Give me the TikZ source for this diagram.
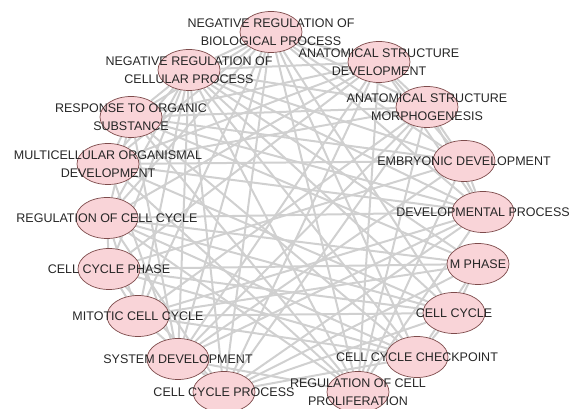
\documentclass[tikz,border=0pt]{standalone}
\usepackage{fontspec}
\setmainfont{Liberation Sans}
\usetikzlibrary{shapes.geometric}
\definecolor{termfill}{RGB}{249,212,216}
\definecolor{termline}{RGB}{125,75,75}
\definecolor{edgegray}{RGB}{208,208,208}
\pgfdeclarelayer{bg}
\pgfsetlayers{bg,main}

\begin{document}
\begin{tikzpicture}[x=1pt, y=-1pt,
    term/.style={ellipse, draw=termline, fill=termfill, line width=0.7pt, minimum width=62pt, minimum height=41pt, inner sep=0pt},
    lbl/.style={align=center, font=\fontsize{12.5}{17.5}\selectfont, text=black!85, inner sep=0pt},
    link/.style={draw=edgegray, line width=2pt}]
    \useasboundingbox (0,0) rectangle (574,409);
    % terms around the circle
    \node[term] (nbp) at (271,32) {};
    \node[term] (asd) at (379,62) {};
    \node[term] (asm) at (427,107) {};
    \node[term] (emb) at (464,161) {};
    \node[term] (dev) at (483,212) {};
    \node[term] (mph) at (478,264) {};
    \node[term] (cyc) at (454,313) {};
    \node[term] (chk) at (417,357) {};
    \node[term] (prol) at (358,392) {};
    \node[term] (ccp) at (224,392) {};
    \node[term] (sysd) at (178,359) {};
    \node[term] (mit) at (138,316) {};
    \node[term] (ccph) at (109,269) {};
    \node[term] (rcc) at (107,218) {};
    \node[term] (mod) at (108,164) {};
    \node[term] (resp) at (131,117) {};
    \node[term] (ncp) at (189,70) {};
    % overlap links
    \begin{pgfonlayer}{bg}
        \foreach \a/\b in {nbp/asd, nbp/asm, nbp/emb, nbp/dev, nbp/prol, nbp/ccp, nbp/sysd, nbp/mit, nbp/rcc, nbp/mod, nbp/resp, nbp/ncp, nbp/chk, nbp/cyc,
            asd/asm, asd/emb, asd/dev, asd/sysd, asd/mod, asd/resp, asd/ncp, asd/prol, asd/ccp, asd/rcc, asd/ccph,
            asm/emb, asm/dev, asm/sysd, asm/mod, asm/resp, asm/ncp, asm/prol, asm/ccp, asm/mit,
            emb/dev, emb/sysd, emb/mod, emb/resp, emb/ncp, emb/prol, emb/ccph,
            dev/sysd, dev/mod, dev/resp, dev/ncp, dev/prol, dev/rcc, dev/mit, dev/ccp,
            mph/cyc, mph/chk, mph/ccp, mph/mit, mph/ccph, mph/rcc, mph/ncp, mph/resp,
            cyc/chk, cyc/ccp, cyc/mit, cyc/ccph, cyc/rcc, cyc/ncp, cyc/mod,
            chk/ccp, chk/mit, chk/ccph, chk/rcc, chk/ncp, chk/resp,
            prol/sysd, prol/mod, prol/resp, prol/ncp, prol/rcc,
            ccp/mit, ccp/ccph, ccp/rcc, ccp/ncp,
            sysd/mod, sysd/resp, sysd/ncp,
            mit/ccph, mit/rcc, mit/ncp,
            ccph/rcc, ccph/ncp, rcc/ncp, rcc/resp, mod/resp, mod/ncp, resp/ncp}
            \draw[link] (\a) -- (\b);
    \end{pgfonlayer}
    % labels on top
    \node[lbl] (nbp-l) at (nbp) {NEGATIVE REGULATION OF\\BIOLOGICAL PROCESS};
    \node[lbl] (asd-l) at (asd) {ANATOMICAL STRUCTURE\\DEVELOPMENT};
    \node[lbl] (asm-l) at (asm) {ANATOMICAL STRUCTURE\\MORPHOGENESIS};
    \node[lbl] (emb-l) at (emb) {EMBRYONIC DEVELOPMENT};
    \node[lbl] (dev-l) at (dev) {DEVELOPMENTAL PROCESS};
    \node[lbl] (mph-l) at (mph) {M PHASE};
    \node[lbl] (cyc-l) at (cyc) {CELL CYCLE};
    \node[lbl] (chk-l) at (chk) {CELL CYCLE CHECKPOINT};
    \node[lbl] (prol-l) at (prol) {REGULATION OF CELL\\PROLIFERATION};
    \node[lbl] (ccp-l) at (ccp) {CELL CYCLE PROCESS};
    \node[lbl] (sysd-l) at (sysd) {SYSTEM DEVELOPMENT};
    \node[lbl] (mit-l) at (mit) {MITOTIC CELL CYCLE};
    \node[lbl] (ccph-l) at (ccph) {CELL CYCLE PHASE};
    \node[lbl] (rcc-l) at (rcc) {REGULATION OF CELL CYCLE};
    \node[lbl] (mod-l) at (mod) {MULTICELLULAR ORGANISMAL\\DEVELOPMENT};
    \node[lbl] (resp-l) at (resp) {RESPONSE TO ORGANIC\\SUBSTANCE};
    \node[lbl] (ncp-l) at (ncp) {NEGATIVE REGULATION OF\\CELLULAR PROCESS};
\end{tikzpicture}
\end{document}
